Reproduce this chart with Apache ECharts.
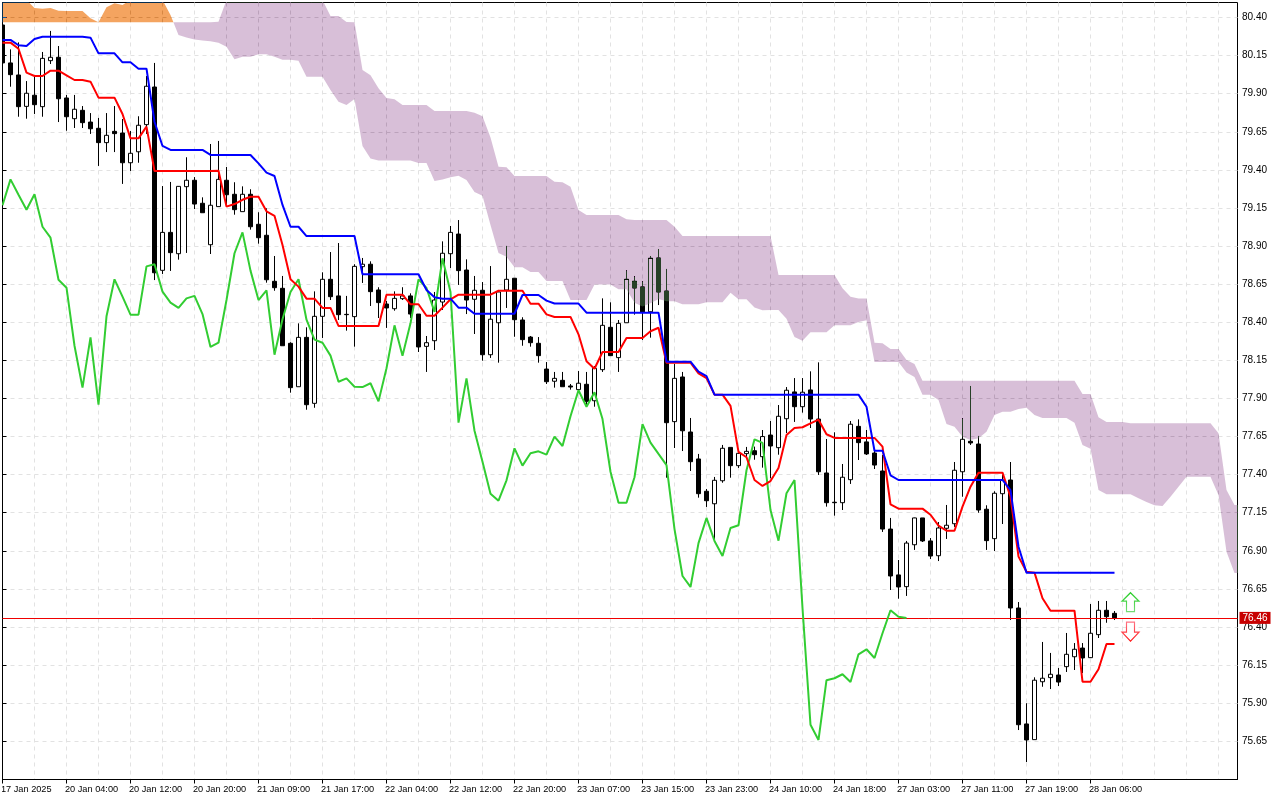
<!DOCTYPE html>
<html>
<head>
<meta charset="utf-8">
<style>html,body{margin:0;padding:0;background:#fff}#c{width:1280px;height:800px}</style>
<script src="https://cdn.jsdelivr.net/npm/echarts@6/dist/echarts.min.js"></script>
</head>
<body>
<div id="c"></div>
<script>
const timeLabels = ["17 Jan 2025","20 Jan 04:00","20 Jan 12:00","20 Jan 20:00","21 Jan 09:00","21 Jan 17:00","22 Jan 04:00","22 Jan 12:00","22 Jan 20:00","23 Jan 07:00","23 Jan 15:00","23 Jan 23:00","24 Jan 10:00","24 Jan 18:00","27 Jan 03:00","27 Jan 11:00","27 Jan 19:00","28 Jan 06:00"];
const priceTicks = [75.65,75.90,76.15,76.40,76.65,76.90,77.15,77.40,77.65,77.90,78.15,78.40,78.65,78.90,79.15,79.40,79.65,79.90,80.15,80.40];
const lastPrice = 76.46;
const opens = [80.351,80.102,80.023,79.817,79.890,79.815,80.117,80.139,79.872,79.736,
79.791,79.714,79.673,79.579,79.653,79.642,79.447,79.519,79.697,79.944,
78.741,78.990,78.850,79.290,79.332,79.181,78.909,79.159,79.332,79.240,
79.126,79.240,79.043,78.971,78.669,78.623,78.262,77.977,78.301,77.868,
78.439,78.682,78.573,78.452,78.437,78.765,78.781,78.612,78.520,78.489,
78.555,78.573,78.454,78.242,78.279,78.533,78.850,78.979,78.743,78.551,
78.610,78.187,78.397,78.612,78.689,78.415,78.303,78.262,78.093,78.013,
78.019,77.982,77.958,77.993,77.885,78.089,78.367,78.168,78.397,78.669,
78.632,78.469,78.822,78.605,77.748,78.041,77.680,77.503,77.291,77.209,
77.360,77.579,77.459,77.538,77.557,77.518,77.660,77.577,77.767,77.943,
77.846,77.956,77.765,77.411,77.219,77.216,77.367,77.717,77.615,77.542,
77.424,77.043,76.742,76.665,76.940,77.116,76.965,76.868,77.048,77.078,
77.419,77.619,77.601,77.173,76.980,77.275,77.365,76.525,75.764,75.661,
76.041,76.068,76.085,76.140,76.205,76.262,76.199,76.350,76.510,76.490];
const closes = [80.102,80.025,79.815,79.903,79.828,80.132,80.139,79.867,79.749,79.798,
79.710,79.670,79.579,79.627,79.638,79.447,79.509,79.693,79.949,78.725,
78.990,78.857,79.292,79.332,79.176,79.119,79.168,79.338,79.237,79.139,
79.240,79.027,78.955,78.679,78.627,78.246,77.971,78.301,77.859,78.439,
78.682,78.568,78.450,78.450,78.767,78.781,78.601,78.529,78.494,78.557,
78.573,78.454,78.238,78.266,78.546,78.853,78.990,78.739,78.546,78.610,
78.187,78.420,78.599,78.682,78.417,78.286,78.266,78.181,78.010,78.032,
77.977,77.975,78.000,77.881,78.098,78.380,78.181,78.393,78.682,78.625,
78.468,78.820,78.599,77.741,78.032,77.688,77.485,77.275,77.229,77.363,
77.573,77.459,77.540,77.553,77.531,77.650,77.588,77.783,77.954,77.846,
77.941,77.765,77.419,77.216,77.216,77.383,77.731,77.610,77.536,77.463,
77.043,76.735,76.663,76.951,77.116,76.965,76.866,77.050,77.068,77.429,
77.632,77.608,77.168,76.967,77.278,77.365,76.525,75.759,75.659,76.051,
76.064,76.090,76.039,76.221,76.254,76.197,76.359,76.510,76.468,76.460];
const highs = [80.351,80.191,80.237,79.983,80.012,80.174,80.312,80.213,79.892,79.892,
79.819,79.773,79.741,79.773,79.819,79.734,79.655,79.752,80.016,80.102,
79.294,79.321,79.294,79.483,79.353,79.220,79.570,79.590,79.419,79.319,
79.292,79.273,79.122,79.148,78.835,78.704,78.269,78.393,78.367,78.603,
78.728,78.861,78.920,78.573,78.781,78.822,78.800,78.630,78.540,78.603,
78.630,78.590,78.454,78.310,78.599,78.931,79.032,79.071,78.813,78.704,
78.664,78.769,78.612,78.901,78.689,78.433,78.310,78.303,78.139,78.074,
78.074,77.995,78.080,78.074,78.113,78.557,78.531,78.415,78.741,78.702,
78.669,78.835,78.881,78.750,78.126,78.074,77.772,77.536,77.306,77.385,
77.595,77.579,77.555,77.582,77.584,77.693,77.752,77.857,77.975,78.034,
78.034,78.078,78.137,77.634,77.678,77.470,77.752,77.763,77.693,77.562,
77.529,77.116,76.840,76.965,77.118,77.116,76.984,77.089,77.201,77.483,
77.770,77.982,77.654,77.199,77.291,77.398,77.483,76.564,75.900,76.070,
76.302,76.230,76.131,76.361,76.295,76.295,76.551,76.571,76.571,76.505];
const lows = [80.102,79.946,79.749,79.736,79.767,79.749,80.095,79.714,79.657,79.675,
79.675,79.636,79.426,79.517,79.517,79.308,79.393,79.447,79.636,78.677,
78.717,78.737,78.811,78.855,79.143,79.119,78.848,79.159,79.159,79.106,
79.126,79.008,78.916,78.660,78.607,78.246,77.938,77.977,77.826,77.839,
78.297,78.546,78.415,78.345,78.240,78.658,78.507,78.428,78.363,78.476,
78.546,78.428,78.205,78.074,78.218,78.481,78.756,78.645,78.454,78.323,
78.148,78.166,78.135,78.494,78.305,78.246,78.240,78.135,77.995,77.971,
77.977,77.958,77.958,77.857,77.846,78.074,78.181,78.074,78.397,78.450,
78.284,78.299,78.513,77.380,77.575,77.555,77.424,77.249,77.188,76.971,
77.347,77.380,77.444,77.505,77.498,77.446,77.376,77.531,77.673,77.746,
77.807,77.706,77.398,77.190,77.131,77.168,77.339,77.496,77.529,77.437,
77.024,76.643,76.586,76.604,76.906,76.958,76.846,76.833,76.978,77.057,
77.255,77.595,77.150,76.906,76.899,77.076,76.446,75.724,75.514,75.661,
76.008,75.993,76.013,76.105,76.118,76.098,76.197,76.328,76.428,76.446];
const tenkan = [80.235,80.235,80.195,80.038,80.016,80.016,80.051,80.051,80.021,79.990,
79.990,79.979,79.874,79.874,79.874,79.767,79.607,79.607,79.684,79.393,
79.393,79.393,79.393,79.393,79.393,79.393,79.393,79.395,79.159,79.176,
79.204,79.224,79.224,79.128,79.099,78.907,78.682,78.634,78.555,78.555,
78.494,78.494,78.376,78.376,78.376,78.376,78.376,78.376,78.581,78.581,
78.581,78.518,78.518,78.443,78.443,78.496,78.551,78.581,78.581,78.581,
78.581,78.581,78.607,78.607,78.607,78.607,78.522,78.522,78.452,78.435,
78.435,78.435,78.321,78.144,78.095,78.205,78.205,78.205,78.297,78.297,
78.297,78.341,78.364,78.135,78.135,78.135,78.135,78.065,78.034,77.925,
77.925,77.851,77.549,77.514,77.365,77.326,77.358,77.444,77.660,77.706,
77.711,77.737,77.761,77.665,77.641,77.641,77.641,77.641,77.641,77.641,
77.584,77.205,77.177,77.177,77.177,77.177,77.137,77.065,77.032,77.032,
77.190,77.321,77.413,77.413,77.413,77.413,77.255,76.862,76.763,76.757,
76.589,76.507,76.507,76.507,76.507,76.041,76.041,76.123,76.289,76.289];
const kijun = [80.253,80.253,80.218,80.213,80.259,80.274,80.274,80.274,80.274,80.274,
80.274,80.268,80.165,80.165,80.165,80.106,80.106,80.064,80.064,79.716,
79.557,79.531,79.531,79.531,79.531,79.531,79.498,79.498,79.498,79.498,
79.498,79.498,79.443,79.382,79.360,79.170,79.027,79.027,78.966,78.966,
78.966,78.966,78.966,78.966,78.966,78.715,78.715,78.715,78.715,78.715,
78.715,78.715,78.715,78.612,78.564,78.555,78.555,78.496,78.496,78.456,
78.456,78.456,78.456,78.456,78.456,78.579,78.579,78.579,78.542,78.523,
78.523,78.523,78.523,78.463,78.463,78.463,78.463,78.463,78.463,78.463,
78.463,78.463,78.463,78.141,78.141,78.141,78.141,78.076,78.047,77.925,
77.925,77.925,77.925,77.925,77.925,77.925,77.925,77.925,77.925,77.925,
77.925,77.925,77.925,77.925,77.925,77.925,77.925,77.925,77.846,77.557,
77.557,77.396,77.365,77.365,77.365,77.365,77.365,77.365,77.365,77.365,
77.365,77.365,77.365,77.365,77.365,77.365,77.299,76.927,76.757,76.757,
76.757,76.757,76.757,76.757,76.757,76.757,76.757,76.757,76.757,76.757];
const chikou = [79.168,79.338,79.237,79.139,
79.240,79.027,78.955,78.679,78.627,78.246,77.971,78.301,77.859,78.439,
78.682,78.568,78.450,78.450,78.767,78.781,78.601,78.529,78.494,78.557,
78.573,78.454,78.238,78.266,78.546,78.853,78.990,78.739,78.546,78.610,
78.187,78.420,78.599,78.682,78.417,78.286,78.266,78.181,78.010,78.032,
77.977,77.975,78.000,77.881,78.098,78.380,78.181,78.393,78.682,78.625,
78.468,78.820,78.599,77.741,78.032,77.688,77.485,77.275,77.229,77.363,
77.573,77.459,77.540,77.553,77.531,77.650,77.588,77.783,77.954,77.846,
77.941,77.765,77.419,77.216,77.216,77.383,77.731,77.610,77.536,77.463,
77.043,76.735,76.663,76.951,77.116,76.965,76.866,77.050,77.068,77.429,
77.632,77.608,77.168,76.967,77.278,77.365,76.525,75.759,75.659,76.051,
76.064,76.090,76.039,76.221,76.254,76.197,76.359,76.510,76.468,76.460];
const spanA = [80.515,80.515,80.515,80.515,80.462,80.458,80.462,80.445,80.443,80.443,
80.443,80.395,80.369,80.467,80.493,80.482,80.515,80.515,80.515,80.515,
80.515,80.417,80.285,80.269,80.256,80.249,80.244,80.235,80.209,80.126,
80.143,80.143,80.159,80.159,80.143,80.123,80.123,80.117,80.012,80.012,
80.012,79.924,79.848,79.826,79.865,79.557,79.475,79.462,79.462,79.462,
79.462,79.462,79.445,79.445,79.327,79.337,79.351,79.361,79.334,79.255,
79.230,79.038,78.855,78.830,78.761,78.761,78.730,78.730,78.671,78.671,
78.671,78.546,78.546,78.546,78.648,78.648,78.648,78.616,78.616,78.528,
78.504,78.525,78.553,78.538,78.538,78.519,78.519,78.519,78.532,78.532,
78.532,78.593,78.551,78.551,78.497,78.479,78.481,78.481,78.423,78.303,
78.279,78.334,78.334,78.334,78.380,78.380,78.380,78.402,78.414,78.139,
78.139,78.139,78.139,78.071,78.041,77.925,77.925,77.890,77.733,77.715,
77.649,77.628,77.639,77.682,77.792,77.813,77.813,77.831,77.839,77.792,
77.772,77.772,77.772,77.772,77.741,77.595,77.570,77.299,77.271,77.271,
77.271,77.271,77.245,77.221,77.199,77.194,77.255,77.321,77.387,77.387,
77.387,77.387,77.267,76.894,76.755,76.755];
const spanB = [80.369,80.369,80.369,80.369,80.369,80.369,80.369,80.369,80.369,80.369,
80.369,80.369,80.369,80.369,80.369,80.369,80.369,80.369,80.369,80.369,
80.369,80.369,80.369,80.369,80.369,80.369,80.369,80.373,80.515,80.515,
80.515,80.515,80.515,80.515,80.515,80.515,80.515,80.515,80.515,80.515,
80.515,80.410,80.410,80.371,80.369,80.056,80.021,79.936,79.872,79.863,
79.826,79.826,79.826,79.826,79.787,79.787,79.787,79.787,79.787,79.775,
79.752,79.613,79.421,79.417,79.360,79.360,79.360,79.360,79.360,79.323,
79.319,79.290,79.137,79.104,79.104,79.104,79.104,79.104,79.076,79.071,
79.071,79.071,79.071,79.071,79.027,78.966,78.966,78.966,78.966,78.966,
78.966,78.966,78.966,78.966,78.966,78.966,78.966,78.710,78.710,78.710,
78.710,78.710,78.710,78.710,78.710,78.623,78.568,78.556,78.556,78.266,
78.262,78.225,78.225,78.152,78.126,78.017,78.017,78.017,78.017,78.017,
78.017,78.017,78.017,78.017,78.017,78.017,78.017,78.017,78.017,78.017,
78.017,78.017,78.017,78.017,78.017,77.929,77.929,77.776,77.746,77.746,
77.746,77.737,77.737,77.737,77.737,77.737,77.737,77.737,77.737,77.737,
77.737,77.737,77.671,77.299,77.201,77.201];
const buyArrow = [[141, 76.563]];
const sellArrow = [[141, 76.370]];

const FONT = 'Liberation Sans';
const labelTicks = timeLabels.map((_, k) => k * 8);
const gridTicks = [];
for (let k = 0; k <= 152; k += 4) gridTicks.push(k);

// cloud pieces: the two spans cross once, between bars 21 and 22
const d21 = spanB[21] - spanA[21], d22 = spanB[22] - spanA[22];
const crossX = 21 + d21 / (d21 - d22);
const crossY = spanA[21] + (spanA[22] - spanA[21]) * (crossX - 21);
const orangePts = [], orangeBack = [], lilacPts = [], lilacBack = [];
spanA.forEach((a, i) => {
  if (i <= 21) { orangePts.push([i, a]); orangeBack.unshift([i, spanB[i]]); }
  else { lilacPts.push([i, spanB[i]]); lilacBack.unshift([i, a]); }
});
const orangePoly = orangePts.concat([[crossX, crossY]], orangeBack);
const lilacPoly = [[crossX, crossY]].concat(lilacPts, lilacBack);

function cloudSeries(poly, inverse) {
  return {
    type: 'custom', coordinateSystem: 'cartesian2d', xAxisIndex: 0, yAxisIndex: 0,
    clip: true, silent: true, z: 3, blendMode: 'difference',
    encode: { x: 0, y: 1 }, data: poly,
    renderItem: (params, api) => {
      if (params.dataIndex !== 0) return null;
      return { type: 'polygon', shape: { points: poly.map(p => api.coord(p)) },
               style: { fill: inverse, stroke: null } };
    }
  };
}
function lineSeries(values, color) {
  return { type: 'line', xAxisIndex: 0, yAxisIndex: 0, z: 5, data: values.map((v, i) => [i, v]),
    showSymbol: false, symbol: 'none', silent: true, clip: true, lineStyle: { color: color, width: 2 } };
}
function arrowSeries(data, path, color) {
  return { type: 'scatter', xAxisIndex: 0, yAxisIndex: 0, z: 6, data: data, symbol: path, symbolSize: [17, 19], silent: true,
    itemStyle: { color: '#fff', opacity: 1, borderWidth: 1.2, borderColor: color } };
}

const chart = echarts.init(document.getElementById('c'), null, { renderer: 'canvas', width: 1280, height: 800 });
chart.setOption({
  animation: false,
  backgroundColor: '#ffffff',
  graphic: [{ type: 'rect', silent: true, z: 100, shape: { x: 0, y: 0, width: 2, height: 800 }, style: { fill: '#ffffff' } }],
  grid: { left: 2.5, top: 2.5, width: 1235, height: 777, outerBoundsMode: 'none', show: true, borderColor: '#000', borderWidth: 1, backgroundColor: 'transparent' },
  xAxis: [
    { type: 'value', min: 0, max: 154.375, position: 'bottom',
      axisLine: { show: true, lineStyle: { color: '#000' } },
      axisTick: { show: true, length: 4, customValues: labelTicks, lineStyle: { color: '#000' } },
      axisLabel: { show: true, customValues: labelTicks, margin: 5, align: 'left', padding: [0, 0, 0, -1.5], color: '#000', fontFamily: FONT, fontSize: 9.2,
        formatter: v => timeLabels[Math.round(v / 8)] },
      splitLine: { show: false } },
    { type: 'value', min: 0, max: 154.375, position: 'bottom',
      axisLine: { show: false }, axisLabel: { show: false },
      axisTick: { show: false, customValues: gridTicks },
      splitLine: { show: true, lineStyle: { color: '#e2e2e2', type: [4, 4], width: 1 } } }
  ],
  yAxis: { type: 'value', position: 'right', min: 75.3994, max: 80.4986, scale: true,
    axisLine: { show: true, lineStyle: { color: '#000' } },
    axisTick: { show: true, length: 4, customValues: priceTicks, lineStyle: { color: '#000' } },
    axisLabel: { show: true, customValues: priceTicks, margin: 4.5, color: '#000', fontFamily: FONT, fontSize: 10, formatter: v => v.toFixed(2) },
    splitLine: { show: true, lineStyle: { color: '#e2e2e2', type: [4, 4], width: 1 } } },
  series: [
    { type: 'candlestick', xAxisIndex: 0, yAxisIndex: 0, z: 2, barWidth: 5, clip: true, silent: true,
      data: opens.map((o, i) => [i, o, closes[i], lows[i], highs[i]]),
      encode: { x: 0, y: [1, 2, 3, 4] },
      itemStyle: { color: '#fff', color0: '#000', borderColor: '#000', borderColor0: '#000', borderWidth: 1 },
      markLine: { silent: true, symbol: 'none', animation: false, precision: 2,
        lineStyle: { color: '#f00000', width: 1, type: 'solid' },
        label: { show: true, position: 'end', distance: 2, formatter: lastPrice.toFixed(2), color: '#fff', backgroundColor: '#c80000',
          fontFamily: FONT, fontSize: 10, padding: [1, 3, 1, 3] },
        data: [{ yAxis: lastPrice }] } },
    cloudSeries(orangePoly, '#0b5b9f'),
    cloudSeries(lilacPoly, '#274027'),
    lineSeries(chikou, '#32cd32'),
    lineSeries(tenkan, '#ff0000'),
    lineSeries(kijun, '#0000ff'),
    arrowSeries(buyArrow, 'path://M8.5 0L17 8.5L12.5 8.5L12.5 19L4.5 19L4.5 8.5L0 8.5Z',
      { type: 'linear', x: 0, y: 0, x2: 0, y2: 1, colorStops: [{ offset: 0, color: '#22cc22' }, { offset: 1, color: '#77dd77' }] }),
    arrowSeries(sellArrow, 'path://M4.5 0L12.5 0L12.5 10L17 10L8.5 19L0 10L4.5 10Z',
      { type: 'linear', x: 0, y: 0, x2: 0, y2: 1, colorStops: [{ offset: 0, color: '#ff7788' }, { offset: 1, color: '#ff1111' }] })
  ]
});
</script>
</body>
</html>
